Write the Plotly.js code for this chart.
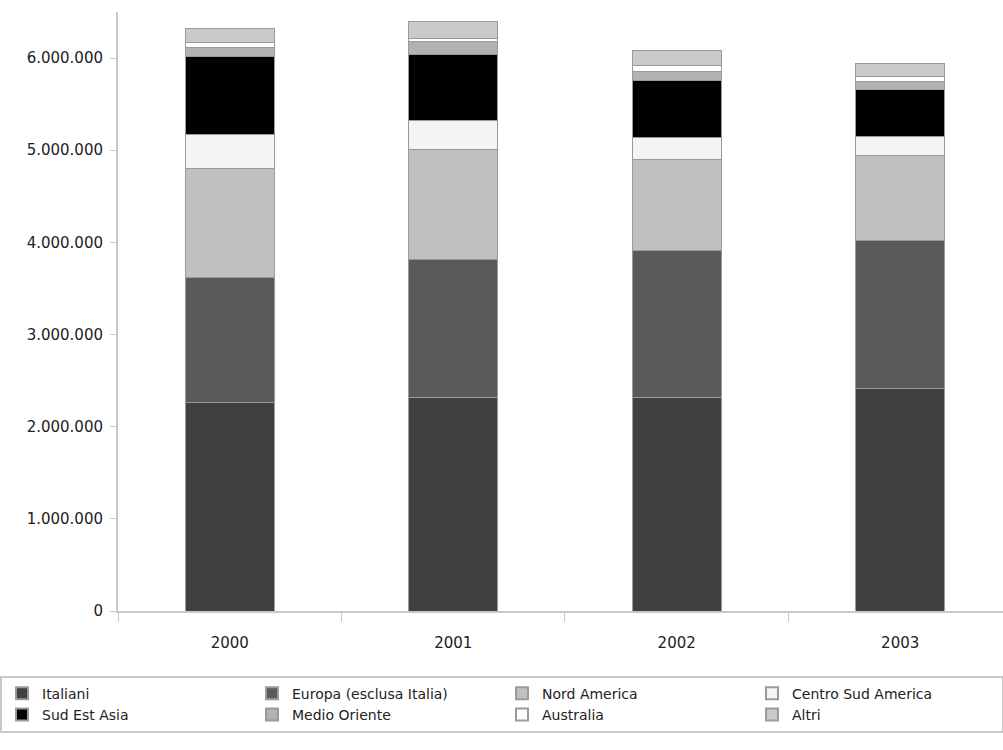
<!DOCTYPE html>
<html>
<head>
<meta charset="utf-8">
<script src="https://cdn.plot.ly/plotly-3.0.1.min.js"></script>
<style>html,body{margin:0;padding:0;background:#fff;}#chart{width:1003px;height:750px;}</style>
</head>
<body>
<div id="chart"></div>
<script>
const years = ['2000', '2001', '2002', '2003'];
const seriesNames = ['Italiani', 'Europa (esclusa Italia)', 'Nord America', 'Centro Sud America', 'Sud Est Asia', 'Medio Oriente', 'Australia', 'Altri'];
const italiani = [2268000, 2322000, 2322000, 2410000];
const europa = [1346000, 1488000, 1590000, 1610000];
const nordAmerica = [1193000, 1193000, 988000, 918000];
const centroSudAmerica = [369000, 325000, 239000, 214000];
const sudEstAsia = [836000, 716000, 614000, 507000];
const medioOriente = [98000, 133000, 98000, 90000];
const australia = [54000, 40000, 73000, 47000];
const altri = [152000, 177000, 163000, 145000];
const seriesValues = [italiani, europa, nordAmerica, centroSudAmerica, sudEstAsia, medioOriente, australia, altri];
const seriesColors = ['#404040', '#5a5a5a', '#c0c0c0', '#f4f4f4', '#000000', '#b2b2b2', '#ffffff', '#cacaca'];

const traces = seriesNames.map((name, i) => ({
  type: 'bar',
  name: name,
  x: years,
  y: seriesValues[i],
  width: 0.4,
  marker: {color: seriesColors[i], line: {color: '#9a9a9a', width: 1}}
}));

const layout = {
  width: 1003,
  height: 750,
  barmode: 'stack',
  paper_bgcolor: '#ffffff',
  plot_bgcolor: '#ffffff',
  separators: ',.',
  font: {family: 'DejaVu Sans, Arial, sans-serif', size: 15, color: '#222'},
  margin: {l: 118, r: 0, t: 12, b: 139},
  showlegend: true,
  xaxis: {
    type: 'category',
    range: [-0.5, 3.46],
    showline: true, linecolor: '#c8c8c8', linewidth: 2,
    ticks: 'outside', tickson: 'boundaries', ticklen: 9, tickcolor: '#c8c8c8', tickwidth: 1,
    ticklabelstandoff: 17,
    showgrid: false, zeroline: false
  },
  yaxis: {
    range: [0, 6500000],
    tickvals: [0, 1000000, 2000000, 3000000, 4000000, 5000000, 6000000],
    tickformat: ',d',
    showline: true, linecolor: '#c8c8c8', linewidth: 2,
    ticks: 'outside', ticklen: 6, tickcolor: '#c8c8c8', tickwidth: 1,
    ticklabelstandoff: 4,
    showgrid: false, zeroline: false
  },
  legend: {
    orientation: 'h',
    x: -0.126, xanchor: 'left',
    y: -0.108, yanchor: 'top',
    traceorder: 'normal',
    entrywidth: 205, entrywidthmode: 'pixels',
    bordercolor: '#c8c8c8', borderwidth: 2,
    bgcolor: '#ffffff',
    font: {size: 14, color: '#222'},
    itemsizing: 'constant'
  }
};

Plotly.newPlot('chart', traces, layout, {displayModeBar: false, staticPlot: true});
</script>
</body>
</html>
